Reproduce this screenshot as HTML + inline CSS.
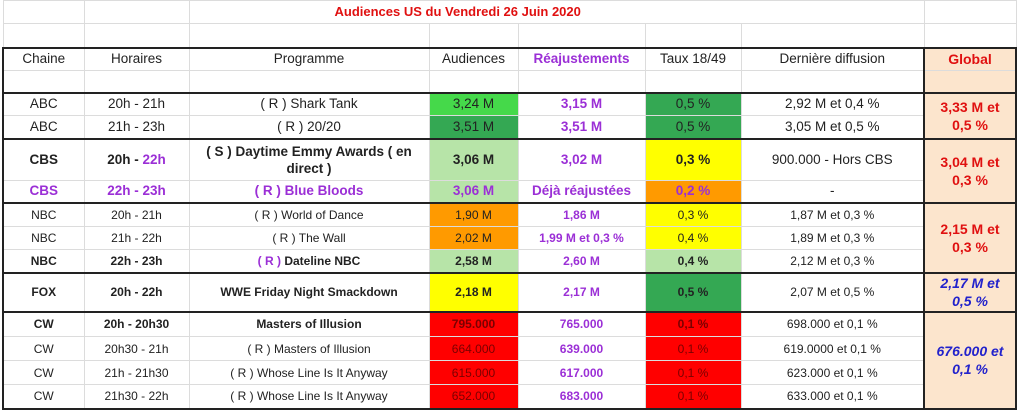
<!DOCTYPE html>
<html><head><meta charset="utf-8"><style>
body{margin:0;width:1022px;height:412px;background:#fff;overflow:hidden;font-family:"Liberation Sans",sans-serif;}
table{position:absolute;left:2px;top:0;border-collapse:collapse;table-layout:fixed;font-size:12px;color:#222;}
td{border:1px solid #dcdcdc;text-align:center;padding:0;line-height:14px;overflow:hidden;white-space:nowrap}
.big td{font-size:13.5px}
.t td{border-top:2px solid #222}
.l{border-left:2px solid #222}.r{border-right:2px solid #222}
.g{background:#fce5cd;font-weight:bold;font-size:14px !important;line-height:18px;white-space:normal;border-left:2px solid #222;border-right:2px solid #222}
.red{color:#e01010}.blu{color:#2222cc;font-style:italic}
.p{color:#9b2fd6;font-weight:bold}
.b{font-weight:bold}
.lg{background:#b7e4a8}.bg{background:#45d94a}.dg{background:#34a853}.ye{background:#ffff00}.or{background:#ff9a00}.rd{background:#ff0000;color:#7a0000}
.bot td{border-bottom:2px solid #222}
</style></head><body>
<table>
<colgroup><col style="width:81px"><col style="width:105px"><col style="width:240px"><col style="width:89px"><col style="width:127px"><col style="width:96px"><col style="width:183px"><col style="width:92px"></colgroup>
<tr style="height:23px"><td></td><td></td><td colspan="5" style="text-align:left;padding-left:145px;color:#e01010;font-weight:bold;font-size:13px">Audiences US du Vendredi 26 Juin 2020</td><td></td></tr>
<tr style="height:24px"><td></td><td></td><td></td><td></td><td></td><td></td><td></td><td></td></tr>
<tr class="t big" style="height:23px"><td class="l">Chaine</td><td>Horaires</td><td>Programme</td><td>Audiences</td><td class="p">Réajustements</td><td>Taux 18/49</td><td>Dernière diffusion</td><td class="g red">Global</td></tr>
<tr style="height:22px"><td class="l"></td><td></td><td></td><td></td><td></td><td></td><td></td><td class="g"></td></tr>
<tr class="t big" style="height:23px"><td class="l">ABC</td><td>20h - 21h</td><td>( R ) Shark Tank</td><td class="bg">3,24 M</td><td class="p">3,15 M</td><td class="dg">0,5 %</td><td>2,92 M et 0,4 %</td><td class="g red" rowspan="2">3,33 M et<br>0,5 %</td></tr>
<tr class="big" style="height:23px"><td class="l">ABC</td><td>21h - 23h</td><td>( R ) 20/20</td><td class="dg">3,51 M</td><td class="p">3,51 M</td><td class="dg">0,5 %</td><td>3,05 M et 0,5 %</td></tr>
<tr class="t b big" style="height:42px"><td class="l">CBS</td><td>20h - <span class="p">22h</span></td><td style="white-space:normal;line-height:17px;padding:0 8px">( S ) Daytime Emmy Awards ( en direct )</td><td class="lg">3,06 M</td><td class="p">3,02 M</td><td class="ye">0,3 %</td><td style="font-weight:normal">900.000 - Hors CBS</td><td class="g red" rowspan="2">3,04 M et<br>0,3 %</td></tr>
<tr class="p big" style="height:22px"><td class="l">CBS</td><td>22h - 23h</td><td>( R ) Blue Bloods</td><td class="lg">3,06 M</td><td>Déjà réajustées</td><td class="or">0,2 %</td><td style="color:#222;font-weight:normal">-</td></tr>
<tr class="t" style="height:24px"><td class="l">NBC</td><td>20h - 21h</td><td>( R ) World of Dance</td><td class="or">1,90 M</td><td class="p">1,86 M</td><td class="ye">0,3 %</td><td>1,87 M et 0,3 %</td><td class="g red" rowspan="3">2,15 M et<br>0,3 %</td></tr>
<tr style="height:23px"><td class="l">NBC</td><td>21h - 22h</td><td>( R ) The Wall</td><td class="or">2,02 M</td><td class="p">1,99 M et 0,3 %</td><td class="ye">0,4 %</td><td>1,89 M et 0,3 %</td></tr>
<tr class="b" style="height:23px"><td class="l">NBC</td><td>22h - 23h</td><td><span class="p">( R )</span> Dateline NBC</td><td class="lg">2,58 M</td><td class="p">2,60 M</td><td class="lg">0,4 %</td><td style="font-weight:normal">2,12 M et 0,3 %</td></tr>
<tr class="t b" style="height:39px"><td class="l">FOX</td><td>20h - 22h</td><td>WWE Friday Night Smackdown</td><td class="ye">2,18 M</td><td class="p">2,17 M</td><td class="dg">0,5 %</td><td style="font-weight:normal">2,07 M et 0,5 %</td><td class="g blu">2,17 M et<br>0,5 %</td></tr>
<tr class="t b" style="height:25px"><td class="l">CW</td><td>20h - 20h30</td><td>Masters of Illusion</td><td class="rd">795.000</td><td class="p">765.000</td><td class="rd">0,1 %</td><td style="font-weight:normal">698.000 et 0,1 %</td><td class="g blu" rowspan="4" style="border-bottom:2px solid #222">676.000 et<br>0,1 %</td></tr>
<tr style="height:24px"><td class="l">CW</td><td>20h30 - 21h</td><td>( R ) Masters of Illusion</td><td class="rd">664.000</td><td class="p">639.000</td><td class="rd">0,1 %</td><td>619.0000 et 0,1 %</td></tr>
<tr style="height:24px"><td class="l">CW</td><td>21h - 21h30</td><td>( R ) Whose Line Is It Anyway</td><td class="rd">615.000</td><td class="p">617.000</td><td class="rd">0,1 %</td><td>623.000 et 0,1 %</td></tr>
<tr class="bot" style="height:24px"><td class="l">CW</td><td>21h30 - 22h</td><td>( R ) Whose Line Is It Anyway</td><td class="rd">652.000</td><td class="p">683.000</td><td class="rd">0,1 %</td><td>633.000 et 0,1 %</td></tr>
</table>
</body></html>
